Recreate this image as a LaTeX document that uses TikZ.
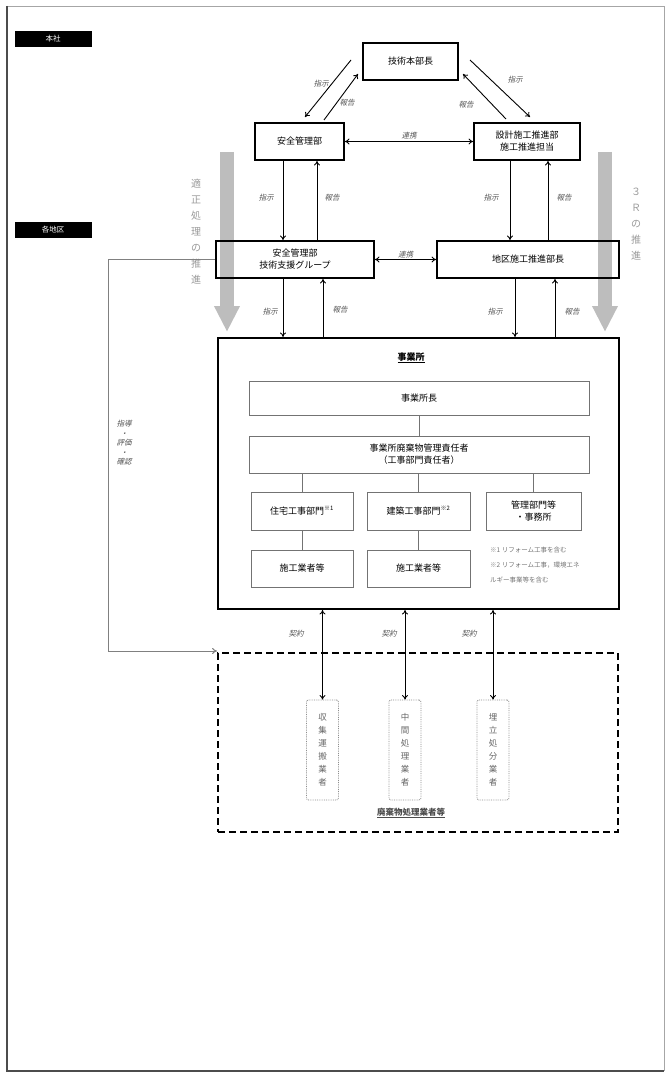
\documentclass[tikz,border=0pt]{standalone}
\usepackage{fontspec}
\setmainfont{Noto Sans CJK JP}
\newfontfamily\slfont{Noto Sans CJK JP}[FakeSlant=0.25]
\usepackage{tikz}
\usetikzlibrary{arrows.meta,calc,positioning}
\definecolor{labcol}{HTML}{555555}
\definecolor{bigarr}{HTML}{BDBDBD}
\tikzset{
  tag/.style={fill=black,text=white,minimum width=77pt,minimum height=16pt,inner sep=0pt,font=\fontsize{7.5}{8}\selectfont},
  unit/.style={draw,line width=1.8pt,align=center,inner sep=1pt,font=\fontsize{9}{12}\selectfont},
  sub/.style={draw=black!55,line width=0.7pt,align=center,inner sep=1pt,font=\fontsize{9}{12}\selectfont},
  trader/.style={draw=black!45,densely dotted,line width=0.8pt,rounded corners=2pt,text=black!60,align=center,
    minimum width=32pt,minimum height=100pt,inner sep=1pt,font=\fontsize{8.5}{13}\selectfont},
  lab/.style={text=labcol,font=\slfont\fontsize{7.5}{9}\selectfont,inner sep=1pt},
  arr/.style={line width=0.9pt,-{To[length=4.5pt,width=6pt]}},
  darr/.style={line width=0.9pt,{To[length=4.5pt,width=6pt]}-{To[length=4.5pt,width=6pt]}},
  flow/.style={line width=14pt,bigarr,-{Triangle[length=26pt,width=24pt]}},
  vtext/.style={text=black!40,align=center,font=\fontsize{10}{16}\selectfont,inner sep=0pt},
}
\begin{document}
\begin{tikzpicture}[x=1pt,y=1pt]
  \useasboundingbox (0,0) rectangle (667,-1078);
  % frame
  \draw[black!35,line width=0.8pt] (7,-6) -- (664,-6) -- (664,-1071);
  \draw[black!70,line width=1.5pt] (7,-6) -- (7,-1071) -- (664,-1071);
  % level tags
  \node[tag] (tagHQ) at (53,-39) {本社};
  \node[tag] (tagRG) at (53,-230) {各地区};
  % big grey arrows
  \coordinate (fL0) at (227,-152);
  \coordinate (fL1) at (227,-332);
  \coordinate (fR0) at (605,-152);
  \coordinate (fR1) at (605,-332);
  \draw[flow] (fL0) -- (fL1);
  \draw[flow] (fR0) -- (fR1);
  \node[vtext] (vL) at (196,-232) {適\\正\\処\\理\\の\\推\\進};
  \node[vtext] (vR) at (636,-224) {３\\Ｒ\\の\\推\\進};
  % head office
  \node[unit,minimum width=95pt,minimum height=37pt] (chief) at (410.5,-61.5) {技術本部長};
  \node[unit,minimum width=89pt,minimum height=37pt] (hqL) at (299.5,-141.5) {安全管理部};
  \node[unit,minimum width=106pt,minimum height=37pt] (hqR) at (527,-141.5) {設計施工推進部\\施工推進担当};
  \draw[darr] (hqL) -- node[lab,above=1pt] {連携} (hqR);
  % diagonal links
  \coordinate (dA0) at (351,-60);
  \coordinate (dA1) at (305,-117);
  \coordinate (dB0) at (324,-120);
  \coordinate (dB1) at (358,-74);
  \coordinate (dC0) at (470,-60);
  \coordinate (dC1) at (530,-117);
  \coordinate (dD0) at (506,-119);
  \coordinate (dD1) at (463,-74);
  \draw[arr] (dA0) -- (dA1);
  \draw[arr] (dB0) -- (dB1);
  \draw[arr] (dC0) -- (dC1);
  \draw[arr] (dD0) -- (dD1);
  \node[lab] (lA) at (321,-84) {指示};
  \node[lab] (lB) at (347,-103) {報告};
  \node[lab] (lC) at (515,-80) {指示};
  \node[lab] (lD) at (466,-105) {報告};
  % regional level
  \node[unit,minimum width=158pt,minimum height=37pt] (rgL) at (295,-259.5) {安全管理部\\技術支援グループ};
  \node[unit,minimum width=182pt,minimum height=37pt] (rgR) at (528,-259.5) {地区施工推進部長};
  \draw[darr] (rgL) -- node[lab,above=0pt] {連携} (rgR);
  % office
  \node[draw,line width=2pt,minimum width=401pt,minimum height=271pt] (office) at (418.5,-473.5) {};
  \node[font=\bfseries\fontsize{9}{11}\selectfont,inner sep=1pt] (officeT) at (411,-358) {\underline{事業所}};
  \node[sub,minimum width=340pt,minimum height=34pt] (boss) at (419,-398) {事業所長};
  \node[sub,minimum width=340pt,minimum height=37pt] (wmgr) at (419,-454.5) {事業所廃棄物管理責任者\\（工事部門責任者）};
  \node[sub,minimum width=102pt,minimum height=38pt] (dHouse) at (302,-511) {住宅工事部門\textsuperscript{※1}};
  \node[sub,minimum width=103pt,minimum height=38pt] (dBuild) at (418.5,-511) {建築工事部門\textsuperscript{※2}};
  \node[sub,minimum width=95pt,minimum height=38pt] (dAdmin) at (533.5,-511) {管理部門等\\・事務所};
  \node[sub,minimum width=102pt,minimum height=37pt] (cHouse) at (302,-568.5) {施工業者等};
  \node[sub,minimum width=103pt,minimum height=37pt] (cBuild) at (418.5,-568.5) {施工業者等};
  \node[anchor=north west,align=left,text=black!55,font=\fontsize{6.5}{15}\selectfont,inner sep=0pt] (note) at (490,-547)
    {※1 リフォーム工事を含む\\※2 リフォーム工事，環境エネ\\ルギー事業等を含む};
  \draw[black!55,line width=0.7pt] (boss) -- (wmgr);
  \draw[black!55,line width=0.7pt] (dHouse.north |- wmgr.south) -- (dHouse);
  \draw[black!55,line width=0.7pt] (dBuild.north |- wmgr.south) -- (dBuild);
  \draw[black!55,line width=0.7pt] (dAdmin.north |- wmgr.south) -- (dAdmin);
  \draw[black!55,line width=0.7pt] (dHouse) -- (cHouse);
  \draw[black!55,line width=0.7pt] (dBuild) -- (cBuild);
  % vertical instruction (down) / report (up) links
  \foreach \cx/\a/\b in {283/hqL/rgL, 510/hqR/rgR, 283/rgL/office, 515/rgR/office} {
    \coordinate (col) at (\cx,0);
    \draw[arr] (\a.south -| col) -- (\b.north -| col);
  }
  \foreach \cx/\a/\b in {317/hqL/rgL, 548/hqR/rgR, 323/rgL/office, 555/rgR/office} {
    \coordinate (col) at (\cx,0);
    \draw[arr] (\b.north -| col) -- (\a.south -| col);
  }
  \node[lab] (l1) at (266,-198) {指示};
  \node[lab] (l2) at (332,-198) {報告};
  \node[lab] (l3) at (491,-198) {指示};
  \node[lab] (l4) at (564,-198) {報告};
  \node[lab] (l5) at (270,-312) {指示};
  \node[lab] (l6) at (340,-310) {報告};
  \node[lab] (l7) at (495,-312) {指示};
  \node[lab] (l8) at (572,-312) {報告};
  % waste traders
  \node[draw,line width=1.8pt,dash pattern=on 7pt off 4pt,minimum width=400pt,minimum height=179pt] (proc) at (418,-742.5) {};
  \node[trader] (tCol) at (322.5,-750) {収\\集\\運\\搬\\業\\者};
  \node[trader] (tMid) at (405,-750) {中\\間\\処\\理\\業\\者};
  \node[trader] (tFin) at (493,-750) {埋\\立\\処\\分\\業\\者};
  \node[font=\bfseries\fontsize{8.5}{10}\selectfont,text=black!70,inner sep=1pt] (procT) at (411,-813) {\underline{廃棄物処理業者等}};
  \foreach \t/\lx in {tCol/296, tMid/389, tFin/469} {
    \draw[darr] (office.south -| \t.north) -- (\t.north);
    \node[lab] at (\lx,-634) {契約};
  }
  % guidance line
  \coordinate (gd) at (108,-651);
  \draw[black!50,line width=1pt,-{To[length=5pt,width=6pt]}] (rgL.west) -| (gd) -- (gd -| proc.west);
  \node[lab,align=center,font=\slfont\fontsize{7.5}{9.5}\selectfont] (gdT) at (124,-443) {指導\\・\\評価\\・\\確認};
\end{tikzpicture}
\end{document}
